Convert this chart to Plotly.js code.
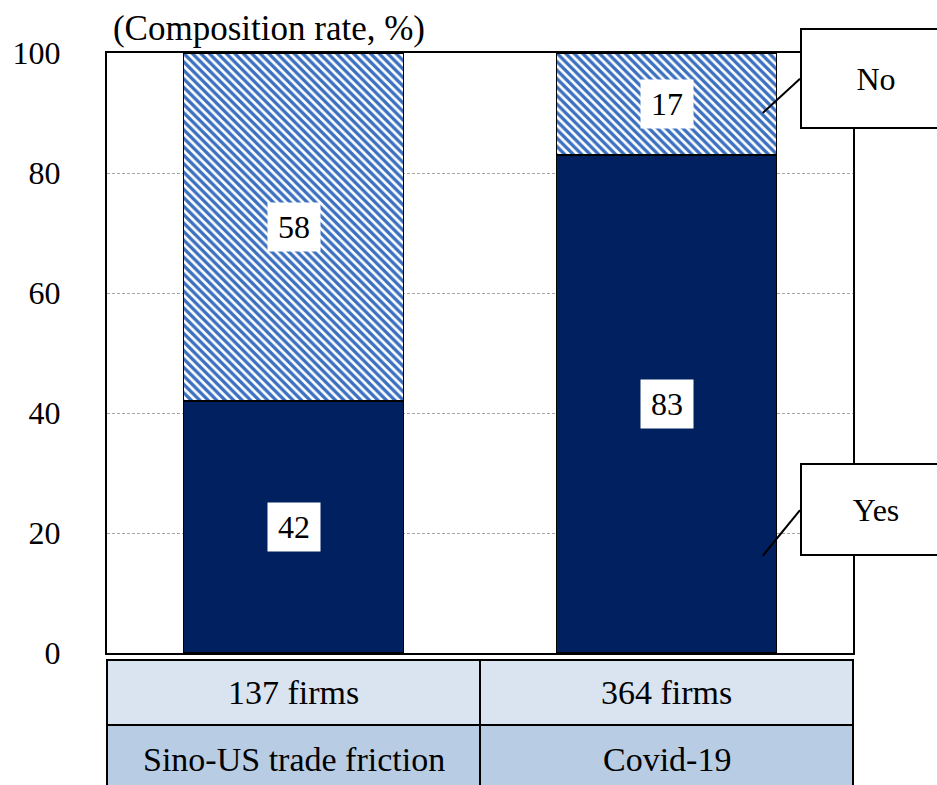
<!DOCTYPE html>
<html>
<head>
<meta charset="utf-8">
<script src="https://cdn.plot.ly/plotly-3.0.1.min.js"></script>
<style>
  html, body { margin: 0; padding: 0; background: #ffffff; }
  #chart { width: 937px; height: 785px; }
</style>
</head>
<body>
<div id="chart"></div>
<script>
// Survey responses by event (composition rate, %)
const categories = ['Sino-US trade friction', 'Covid-19'];
const firmCounts = ['137 firms', '364 firms'];
const yesValues = [42, 83];
const noValues = [58, 17];
const seriesNames = ['Yes', 'No'];
const yTicks = [0, 20, 40, 60, 80, 100];

const FONT = '"Liberation Serif", "Times New Roman", serif';
const NAVY = '#002060';
const STRIPE = '#3a70bf';

const traces = [
  {
    type: 'bar', name: seriesNames[0], x: categories, y: yesValues,
    width: 0.59,
    marker: { color: NAVY, line: { color: '#000', width: 1.5 } },
    hoverinfo: 'skip'
  },
  {
    type: 'bar', name: seriesNames[1], x: categories, y: noValues,
    width: 0.59,
    marker: {
      color: '#ffffff',
      line: { color: '#000', width: 1.5 },
      pattern: { shape: '\\', fgcolor: STRIPE, fgopacity: 1, bgcolor: '#ffffff', size: 6, solidity: 0.55, fillmode: 'overlay' }
    },
    hoverinfo: 'skip'
  }
];

const annotations = [];

// value labels in white boxes at the middle of each segment
categories.forEach((c, i) => {
  annotations.push({
    xref: 'x', yref: 'y', x: c, y: yesValues[i] / 2,
    text: String(yesValues[i]), showarrow: false,
    bgcolor: '#ffffff', width: 52, height: 48, borderpad: 0,
    font: { family: FONT, size: 32, color: '#000' }
  });
  annotations.push({
    xref: 'x', yref: 'y', x: c, y: yesValues[i] + noValues[i] / 2,
    text: String(noValues[i]), showarrow: false,
    bgcolor: '#ffffff', width: 52, height: 48, borderpad: 0,
    font: { family: FONT, size: 32, color: '#000' }
  });
});

// table rows under the plot
categories.forEach((c, i) => {
  annotations.push({
    xref: 'x', yref: 'paper', x: c, y: -0.065, yanchor: 'middle',
    text: firmCounts[i], showarrow: false,
    font: { family: FONT, size: 34, color: '#000' }
  });
  annotations.push({
    xref: 'x', yref: 'paper', x: c, y: -0.178, yanchor: 'middle',
    text: categories[i], showarrow: false,
    font: { family: FONT, size: 34, color: '#000' }
  });
});

// series callout boxes
annotations.push({
  xref: 'paper', yref: 'paper', x: 0.929, y: 0.9575, xanchor: 'left', yanchor: 'middle',
  text: seriesNames[1], showarrow: false, align: 'center',
  bgcolor: '#ffffff', bordercolor: '#000', borderwidth: 2, borderpad: 0,
  width: 148, height: 97,
  font: { family: FONT, size: 32, color: '#000' }
});
annotations.push({
  xref: 'paper', yref: 'paper', x: 0.929, y: 0.239, xanchor: 'left', yanchor: 'middle',
  text: seriesNames[0], showarrow: false, align: 'center',
  bgcolor: '#ffffff', bordercolor: '#000', borderwidth: 2, borderpad: 0,
  width: 148, height: 89,
  font: { family: FONT, size: 32, color: '#000' }
});

const cellLine = { color: '#000', width: 2 };
const rowTop = -0.0117, rowMid = -0.12, rowBottom = -0.26;
const shapes = [
  // table cells
  { type: 'rect', xref: 'paper', yref: 'paper', x0: 0, x1: 0.5, y0: rowMid, y1: rowTop, fillcolor: '#dae3f0', line: cellLine, layer: 'below' },
  { type: 'rect', xref: 'paper', yref: 'paper', x0: 0.5, x1: 1, y0: rowMid, y1: rowTop, fillcolor: '#dae3f0', line: cellLine, layer: 'below' },
  { type: 'rect', xref: 'paper', yref: 'paper', x0: 0, x1: 0.5, y0: rowBottom, y1: rowMid, fillcolor: '#b8cce4', line: cellLine, layer: 'below' },
  { type: 'rect', xref: 'paper', yref: 'paper', x0: 0.5, x1: 1, y0: rowBottom, y1: rowMid, fillcolor: '#b8cce4', line: cellLine, layer: 'below' },
  // callout leader lines
  { type: 'line', xref: 'paper', yref: 'paper', x0: 0.929, y0: 0.957, x1: 0.879, y1: 0.9, line: { color: '#000', width: 2 } },
  { type: 'line', xref: 'paper', yref: 'paper', x0: 0.929, y0: 0.238, x1: 0.879, y1: 0.162, line: { color: '#000', width: 2 } }
];

const layout = {
  width: 937, height: 785,
  margin: { l: 107, r: 84, t: 53, b: 132, pad: 0 },
  paper_bgcolor: '#ffffff', plot_bgcolor: '#ffffff',
  barmode: 'stack',
  showlegend: false,
  font: { family: FONT, color: '#000' },
  title: {
    text: '(Composition rate, %)',
    xref: 'paper', x: 0.008, xanchor: 'left',
    yref: 'container', y: 1 - 28 / 785, yanchor: 'middle',
    font: { family: FONT, size: 35, color: '#000' }
  },
  xaxis: {
    type: 'category', range: [-0.5, 1.5],
    showticklabels: false, ticks: '', showgrid: false, zeroline: false,
    showline: true, linecolor: '#000', linewidth: 2, mirror: true
  },
  yaxis: {
    range: [0, 100], tickvals: yTicks, ticktext: yTicks.map(String),
    ticks: '', ticklabelstandoff: 38,
    tickfont: { family: FONT, size: 32, color: '#000' },
    showgrid: true, gridcolor: '#a6a6a6', gridwidth: 1, griddash: '3px,2px',
    zeroline: false,
    showline: true, linecolor: '#000', linewidth: 2, mirror: true
  },
  annotations: annotations,
  shapes: shapes
};

Plotly.newPlot('chart', traces, layout, { staticPlot: true, displayModeBar: false });
</script>
</body>
</html>
